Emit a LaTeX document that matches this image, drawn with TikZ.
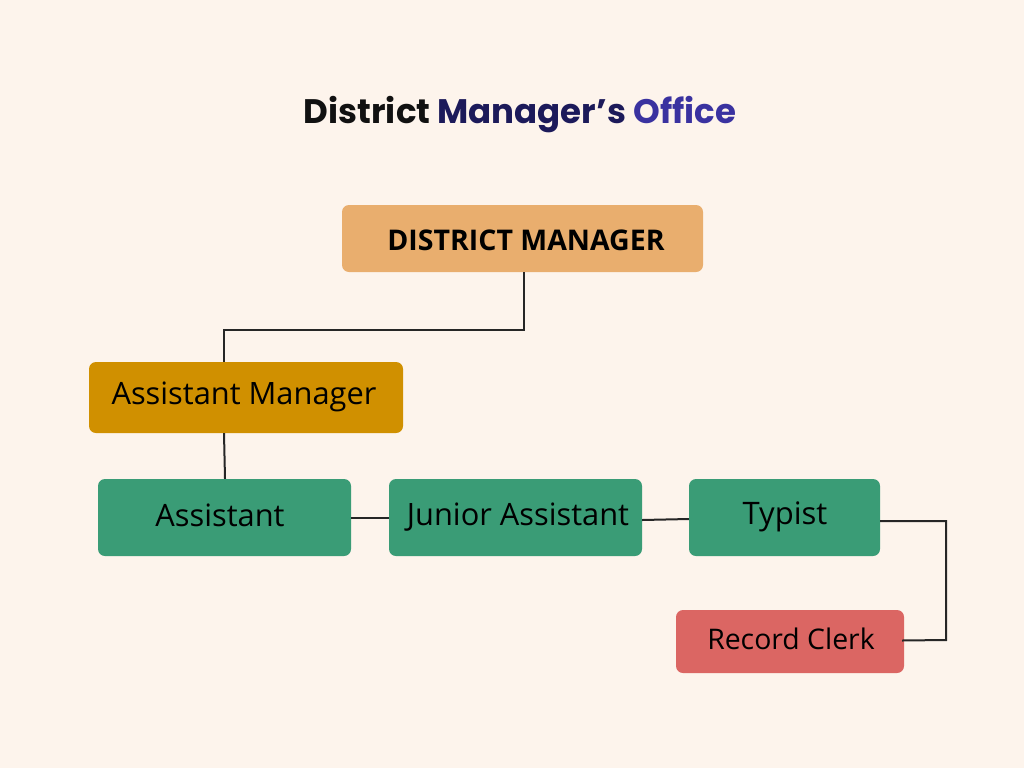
\documentclass[tikz,border=0pt]{standalone}
\usepackage{fontspec}
\usetikzlibrary{calc}
\setmainfont{Open Sans}
\newfontfamily\titlefont{Poppins}
\newfontfamily\boxfont{Open Sans}
\definecolor{bg}{HTML}{FDF4EC}
\definecolor{dmc}{HTML}{E9AE6E}
\definecolor{amc}{HTML}{D09000}
\definecolor{grn}{HTML}{3A9C76}
\definecolor{rcc}{HTML}{DB6663}
\definecolor{tA}{HTML}{111111}
\definecolor{tB}{HTML}{1C1A5A}
\definecolor{tC}{HTML}{3A32A0}
\begin{document}
\begin{tikzpicture}[x=1pt,y=-1pt,
  box/.style={rounded corners=7pt, inner sep=0pt, text=black},
  conn/.style={draw=black!85, line width=2pt}]
\fill[bg] (0,0) rectangle (1024,768);
\useasboundingbox (0,0) rectangle (1024,768);
\node[anchor=center, font=\titlefont\bfseries\fontsize{34}{38}\selectfont] (title) at (520,115)
  {\textcolor{tA}{District} \textcolor{tB}{Manager’s} \textcolor{tC}{Office}};
% boxes
\node[box, fill=dmc, minimum width=361pt, minimum height=67pt] (dm) at (522.5,238.5) {};
\node[font=\boxfont\bfseries\fontsize{28.5}{32}\selectfont] (dmt) at (526,240) {DISTRICT MANAGER};
\node[box, fill=amc, minimum width=314pt, minimum height=71pt] (am) at (246,397.5) {};
\node[font=\boxfont\fontsize{30.8}{34}\selectfont, anchor=west] (amt) at (108,397) {Assistant Manager};
\node[box, fill=grn, minimum width=253pt, minimum height=77pt] (as) at (224.5,517.5) {};
\node[font=\boxfont\fontsize{30.8}{34}\selectfont] (ast) at (220,515.5) {Assistant};
\node[box, fill=grn, minimum width=253pt, minimum height=77pt] (ja) at (515.5,517.5) {};
\node[font=\boxfont\fontsize{30.8}{34}\selectfont] (jat) at (518,517) {Junior Assistant};
\node[box, fill=grn, minimum width=191pt, minimum height=77pt] (ty) at (784.5,517.5) {};
\node[font=\boxfont\fontsize{31}{34}\selectfont] (tyt) at (785,516.5) {Typist};
\node[box, fill=rcc, minimum width=228pt, minimum height=63pt] (rc) at (790,641.5) {};
\node[font=\boxfont\fontsize{28.4}{32}\selectfont] (rct) at (791,639) {Record Clerk};
% connectors
\coordinate (j1) at (524,330);
\coordinate (j2) at (224,330);
\coordinate (j3) at (946,521);
\coordinate (j4) at (946,640);
\draw[conn] ([xshift=1.5pt]dm.south) -- (j1) -- (j2) -- (j2 |- am.north);
\draw[conn] ([xshift=-22pt]am.south) -- ([xshift=0.5pt]as.north);
\draw[conn] (as.east) -- (ja.west);
\draw[conn] ($(ja.east)+(0,2.5)$) -- ($(ty.west)+(0,1.5)$);
\draw[conn] (ty.east |- j3) -- (j3) -- (j4) -- ($(rc.east)+(-2,-1)$);
\end{tikzpicture}
\end{document}
